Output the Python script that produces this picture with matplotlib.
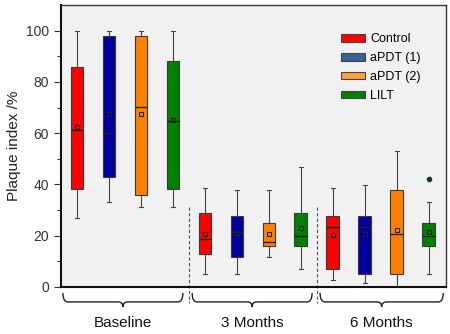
import matplotlib
matplotlib.use("Agg")
import matplotlib.pyplot as plt
import matplotlib.transforms as mtransforms
from matplotlib.patches import Patch, PathPatch
from matplotlib.path import Path

plt.rcParams["font.family"] = ["Liberation Sans", "DejaVu Sans"]

# data, 12 boxes: Baseline, 3 Months, 6 Months x 4 groups
groups = ["Baseline", "3 Months", "6 Months"]
series = ["Control", "aPDT (1)", "aPDT (2)", "LILT"]
whislo = [27, 33, 31, 31, 5, 5, 11.6, 6.9, 2.6, 1.6, 0, 5]
q1 = [38, 43, 36, 38, 12.6, 11.6, 15.8, 15.8, 6.9, 5, 5, 15.8]
med = [61.2, 59.9, 70.3, 64.6, 18.8, 21.4, 17.3, 19.7, 23.3, 23.3, 20.5, 19.7]
q3 = [86, 98, 98, 88, 28.8, 27.7, 24.9, 28.8, 27.7, 27.7, 37.8, 24.9]
whishi = [100, 100, 100, 100, 38.7, 37.8, 37.8, 46.9, 38.7, 39.7, 53, 33]
means = [62.4, 67.6, 67.3, 65.1, 20.6, 20.8, 20.5, 22.8, 20.2, 20.5, 22.1, 21.5]
fliers = [[], [], [], [], [], [], [], [], [], [], [], [42]]

box_colors = ["#ff0000", "#0000a0", "#ff8000", "#008000"]
legend_colors = ["#ff0000", "#3a6194", "#ffa040", "#008000"]

stats = []
for i in range(len(med)):
    stats.append(dict(whislo=whislo[i], q1=q1[i], med=med[i], q3=q3[i],
                      whishi=whishi[i], mean=means[i], fliers=fliers[i]))

fig = plt.figure(figsize=(4.5, 3.34), dpi=100)
ax = fig.add_axes([0.1356, 0.1416, 0.855, 0.843])
ax.set_facecolor("#f1f1f1")

positions = list(range(1, len(med) + 1))
bp = ax.bxp(stats, positions=positions, widths=0.4, patch_artist=True,
            showmeans=True, showfliers=True,
            boxprops=dict(edgecolor="#3a3a3a", linewidth=0.8),
            medianprops=dict(color="#222222", linewidth=1.0),
            whiskerprops=dict(color="#444444", linewidth=0.8),
            capprops=dict(color="#444444", linewidth=0.8),
            meanprops=dict(marker="s", markersize=3.5, markerfacecolor="none",
                           markeredgecolor="#222222", markeredgewidth=0.8),
            flierprops=dict(marker="o", markersize=3, markerfacecolor="#1a3a1a",
                            markeredgecolor="#1a3a1a"))
for cap in bp["caps"]:
    x0, x1 = cap.get_xdata()
    c = (x0 + x1) / 2
    cap.set_xdata([c - 0.06, c + 0.06])
for i, box in enumerate(bp["boxes"]):
    box.set_facecolor(box_colors[i % 4])

ax.set_xlim(0.5, 12.53)
ax.set_ylim(0, 110)
ax.set_yticks([0, 20, 40, 60, 80, 100])
ax.set_yticks(range(10, 110, 20), minor=True)
ax.set_xticks([])
ax.tick_params(axis="y", which="major", length=5, width=0.8, colors="#333333",
               labelsize=10, labelcolor="#333333")
ax.tick_params(axis="y", which="minor", length=3, width=0.8, colors="#333333")
for side in ["left", "bottom"]:
    ax.spines[side].set_linewidth(1.5)
    ax.spines[side].set_color("#111111")
for side in ["top", "right"]:
    ax.spines[side].set_linewidth(1.0)
    ax.spines[side].set_color("#333333")
ax.set_ylabel("Plaque index /%", fontsize=11, color="#222222", labelpad=4)

# dashed separators and braces below the axis
trans = mtransforms.blended_transform_factory(ax.transData, ax.transAxes)
for xs in [4.5, 8.5]:
    ax.plot([xs, xs], [31 / 110, -0.058], transform=trans, ls=(0, (3, 2)),
            color="#555555", lw=0.8, clip_on=False)

def brace(x0, x1, y0=-0.022, y1=-0.054, y2=-0.072):
    xm = (x0 + x1) / 2
    r = 0.15
    verts = [(x0, y0), (x0, y1), (x0 + r, y1),
             (xm - r, y1), (xm, y1), (xm, y2),
             (xm, y1), (xm + r, y1),
             (x1 - r, y1), (x1, y1), (x1, y0)]
    codes = [Path.MOVETO, Path.CURVE3, Path.CURVE3,
             Path.LINETO, Path.CURVE3, Path.CURVE3,
             Path.CURVE3, Path.CURVE3,
             Path.LINETO, Path.CURVE3, Path.CURVE3]
    ax.add_patch(PathPatch(Path(verts, codes), transform=trans, fill=False,
                           edgecolor="#222222", lw=1.0, clip_on=False))

brace_spans = [(0.56, 4.31), (4.6, 8.35), (8.6, 12.45)]
for (x0, x1), name in zip(brace_spans, groups):
    brace(x0, x1)
    ax.text((x0 + x1) / 2, -0.13, name, transform=trans, ha="center",
            va="center", fontsize=11, color="#111111")

handles = [Patch(facecolor=c, edgecolor="#444444", linewidth=0.8) for c in legend_colors]
ax.legend(handles, series, loc="upper left", bbox_to_anchor=(0.699, 0.94),
          frameon=False, fontsize=9, handlelength=1.9, handleheight=0.55,
          labelspacing=0.55, handletextpad=0.4, borderpad=0.4)

fig.savefig("out.png", dpi=100)
